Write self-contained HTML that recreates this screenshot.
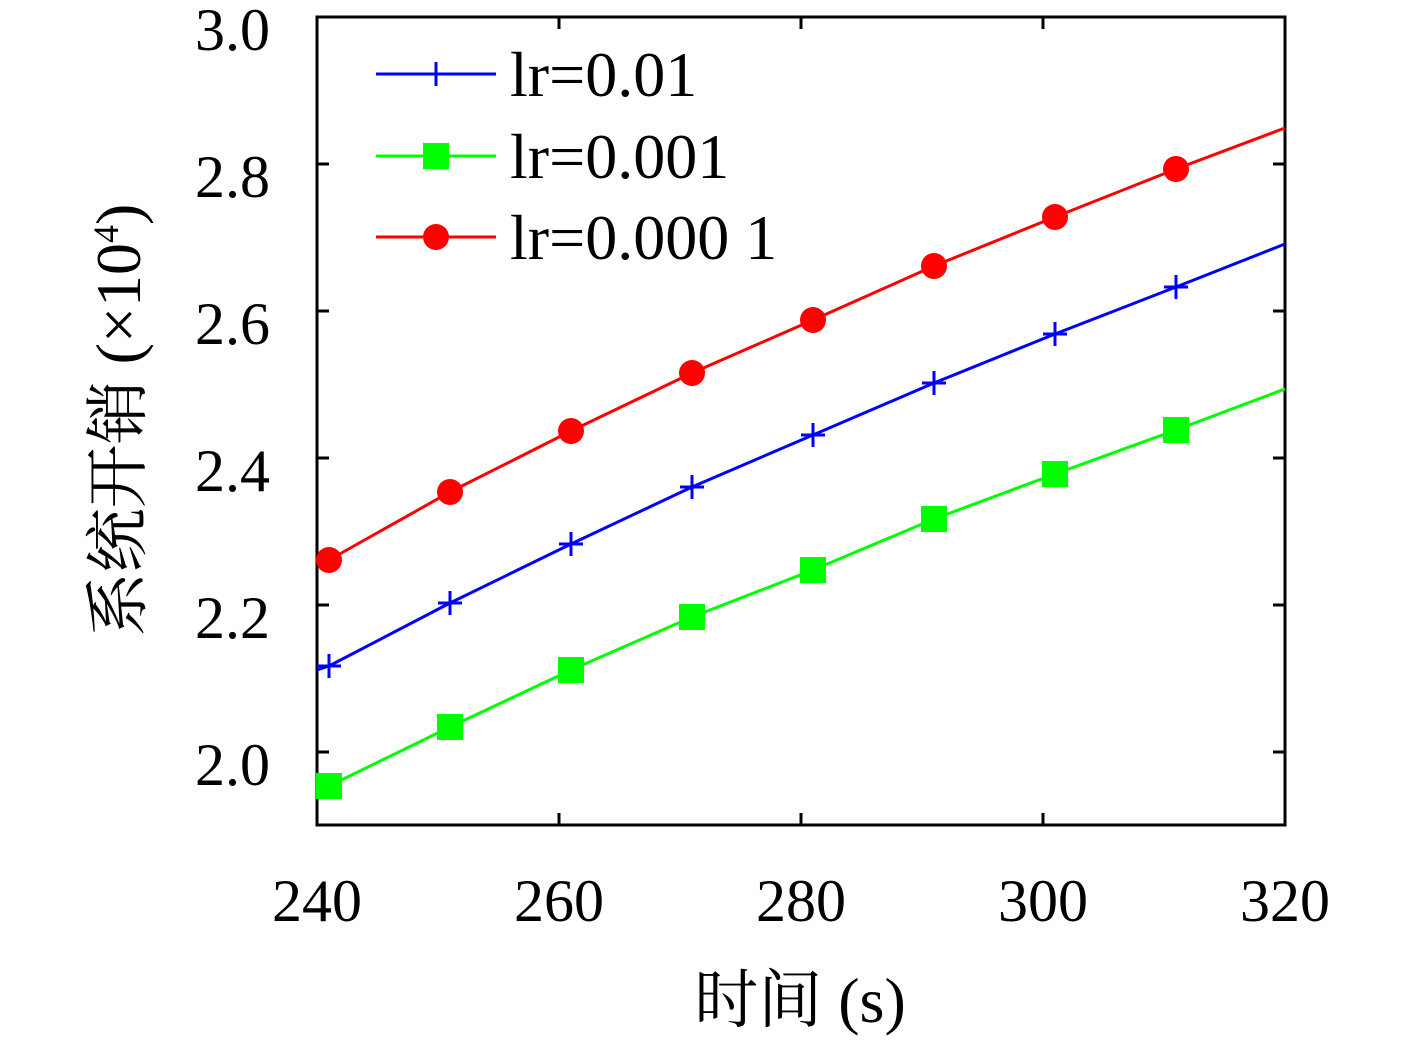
<!DOCTYPE html>
<html><head><meta charset="utf-8"><style>body{margin:0;background:#fff}</style></head>
<body>
<svg width="1417" height="1046" viewBox="0 0 1417 1046" xmlns="http://www.w3.org/2000/svg" font-family="'Liberation Serif','Noto Serif CJK SC',serif">
<rect width="1417" height="1046" fill="#fff"/>
<g stroke="#000" stroke-width="3">
<rect x="317" y="17" width="968" height="808" fill="none"/>
<path d="M317 164h12M317 311h12M317 458h12M317 605h12M317 752h12M1285 164h-12M1285 311h-12M1285 458h-12M1285 605h-12M1285 752h-12M559 825v-12M801 825v-12M1043 825v-12M559 17v12M801 17v12M1043 17v12"/>
</g>
<g font-size="60" text-anchor="end">
<text x="270" y="50">3.0</text><text x="270" y="197">2.8</text><text x="270" y="344">2.6</text><text x="270" y="491">2.4</text><text x="270" y="638">2.2</text><text x="270" y="785">2.0</text>
</g>
<g font-size="60" text-anchor="middle">
<text x="317" y="921">240</text><text x="559" y="921">260</text><text x="801" y="921">280</text><text x="1043" y="921">300</text><text x="1285" y="921">320</text>
<text x="800" y="1022" font-size="64">时间 (s)</text>
<text transform="translate(140,420) rotate(-90)" font-size="64">系统开销 (×10<tspan font-size="36" dy="-22">4</tspan><tspan dy="22">)</tspan></text>
</g>
<g fill="none" stroke-width="3">
<polyline stroke="#f00" points="329,560 450,492 571,431 692,373 813,320 934,266 1055,217 1176,169 1285,128"/>
<polyline stroke="#00f" points="317,670 329,666 450,603 571,544 692,487 813,435 934,383 1055,334 1176,287 1285,244"/>
<polyline stroke="#0f0" points="329,786 450,727 571,670 692,617 813,570 934,519 1055,474 1176,430 1285,389"/>
</g>
<g fill="#f00">
<circle cx="329" cy="560" r="13"/><circle cx="450" cy="492" r="13"/><circle cx="571" cy="431" r="13"/><circle cx="692" cy="373" r="13"/><circle cx="813" cy="320" r="13"/><circle cx="934" cy="266" r="13"/><circle cx="1055" cy="217" r="13"/><circle cx="1176" cy="169" r="13"/>
</g>
<g fill="#0f0">
<rect x="316" y="773" width="26" height="26"/><rect x="437" y="714" width="26" height="26"/><rect x="558" y="657" width="26" height="26"/><rect x="679" y="604" width="26" height="26"/><rect x="800" y="557" width="26" height="26"/><rect x="921" y="506" width="26" height="26"/><rect x="1042" y="461" width="26" height="26"/><rect x="1163" y="417" width="26" height="26"/>
</g>
<g stroke="#00f" stroke-width="3">
<path d="M317 666h24M329 654v24M438 603h24M450 591v24M559 544h24M571 532v24M680 487h24M692 475v24M801 435h24M813 423v24M922 383h24M934 371v24M1043 334h24M1055 322v24M1164 287h24M1176 275v24"/>
</g>
<g stroke-width="3">
<path d="M376 74h120" stroke="#00f"/><path d="M424 74h24M436 62v24" stroke="#00f"/>
<path d="M376 156h120" stroke="#0f0"/>
<path d="M376 237h120" stroke="#f00"/>
</g>
<rect x="423" y="143" width="26" height="26" fill="#0f0"/>
<circle cx="436" cy="237" r="13" fill="#f00"/>
<g font-size="64">
<text x="510" y="96">lr=0.01</text><text x="510" y="178">lr=0.001</text><text x="510" y="259">lr=0.000 1</text>
</g>
</svg>
</body></html>
